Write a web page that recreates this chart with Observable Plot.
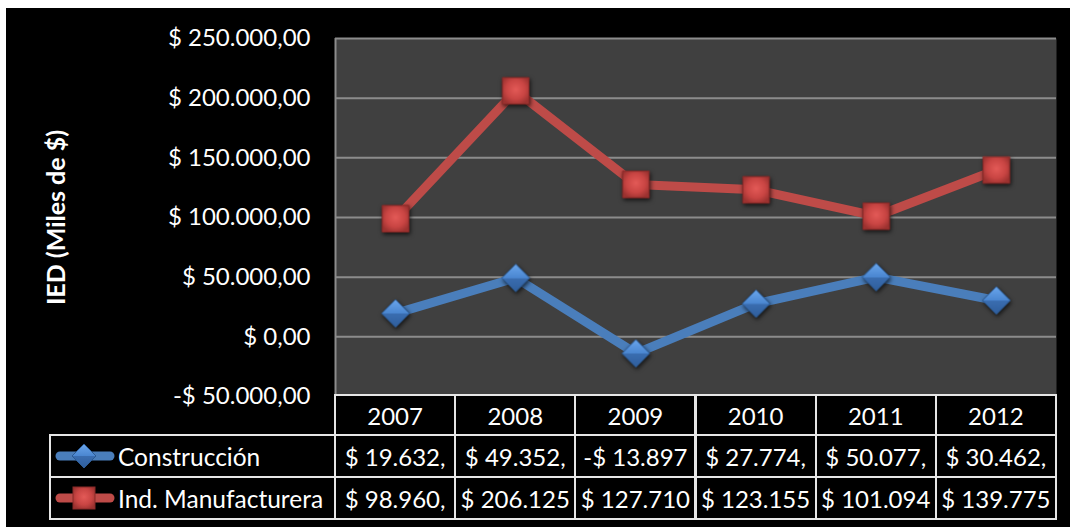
<!DOCTYPE html>
<html>
<head>
<meta charset="utf-8">
<script src="https://cdn.jsdelivr.net/npm/d3@7"></script>
<script src="https://cdn.jsdelivr.net/npm/@observablehq/plot@0.6"></script>
<style>
  html, body { margin: 0; padding: 0; background: #ffffff; }
  #wrap { position: absolute; left: 6px; top: 8px; width: 1064px; height: 519px; background: #000000; overflow: hidden; font-family: Lato, "Open Sans", sans-serif; }
  #wrap svg.plot { overflow: visible; }
  g[aria-label="y-axis label"] text { font-weight: bold; font-size: 25px; }
  g[aria-label="dot"] { filter: drop-shadow(1px 2px 2px rgba(0,0,0,0.7)); }
  .cell { position: absolute; box-sizing: border-box; border: 2px solid #e6e6e6; color: #ffffff; font-size: 24px; display: flex; align-items: center; justify-content: center; white-space: nowrap; overflow: hidden; background: #000; }
  .cell.leg { justify-content: flex-start; font-size: 24.5px; }
  .cell.leg svg { margin-left: 4px; margin-right: 3px; flex: none; }
</style>
</head>
<body>
<div id="wrap"></div>
<script>
// ---- data ----
const years = ["2007", "2008", "2009", "2010", "2011", "2012"];
const construccion = [19632, 49352, -13897, 27774, 50077, 30462];
const manufacturera = [98960, 206125, 127710, 123155, 101094, 139775];
const construccionLabels = ["$ 19.632,", "$ 49.352,", "-$ 13.897", "$ 27.774,", "$ 50.077,", "$ 30.462,"];
const manufactureraLabels = ["$ 98.960,", "$ 206.125", "$ 127.710", "$ 123.155", "$ 101.094", "$ 139.775"];
const seriesNames = ["Construcción", "Ind. Manufacturera"];
const yTicks = [-50000, 0, 50000, 100000, 150000, 200000, 250000];
const yTitle = "IED (Miles de $)";

const blue = "#4a7ebb", red = "#be4b48";

const locale = d3.formatLocale({decimal: ",", thousands: ".", grouping: [3], currency: ["$ ", ""], minus: "-"});
const fmt = locale.format("$,.2f");

const rowsC = years.map((yr, i) => ({i, year: yr, v: construccion[i]}));
const rowsM = years.map((yr, i) => ({i, year: yr, v: manufacturera[i]}));

const plot = Plot.plot({
  width: 1064,
  height: 410,
  marginLeft: 329,
  marginRight: 14,
  marginTop: 30,
  marginBottom: 22,
  style: {background: "transparent", color: "#ffffff", fontFamily: "Lato, 'Open Sans', sans-serif", fontSize: "24px"},
  x: {type: "linear", domain: [-0.5, years.length - 0.5], axis: null},
  y: {domain: [-50000, 250000], ticks: yTicks, tickFormat: fmt, tickSize: 0, tickPadding: 25,
      label: yTitle, labelAnchor: "center", labelOffset: 288, labelArrow: "none"},
  marks: [
    Plot.frame({fill: "#404040", stroke: null}),
    Plot.ruleY(yTicks, {stroke: "#8c8c8c", strokeWidth: 2}),
    Plot.ruleX([-0.5], {stroke: "#8c8c8c", strokeWidth: 2}),
    Plot.lineY(rowsC, {x: "i", y: "v", stroke: blue, strokeWidth: 9, strokeLinejoin: "round"}),
    Plot.lineY(rowsM, {x: "i", y: "v", stroke: red, strokeWidth: 9, strokeLinejoin: "round"}),
    Plot.dot(rowsC, {x: "i", y: "v", symbol: "diamond2", r: 12.5, fill: "url(#gBlue)", stroke: "#2c5a92", strokeWidth: 1}),
    Plot.dot(rowsM, {x: "i", y: "v", symbol: "square", r: 15, fill: "url(#gRed)", stroke: "#8a2a28", strokeWidth: 1})
  ]
});

const defsSrc = `
  <linearGradient id="gBlue" x1="0" y1="0" x2="0" y2="1">
    <stop offset="0" stop-color="#6aa6ec"/>
    <stop offset="0.5" stop-color="#4a86d0"/>
    <stop offset="0.52" stop-color="#3a6db0"/>
    <stop offset="1" stop-color="#2f5e9c"/>
  </linearGradient>
  <radialGradient id="gRed" cx="0.5" cy="0.45" r="0.6">
    <stop offset="0" stop-color="#e35a57"/>
    <stop offset="0.6" stop-color="#c94543"/>
    <stop offset="1" stop-color="#9c3230"/>
  </radialGradient>`;

const wrap = document.getElementById("wrap");
wrap.appendChild(plot);
const defs = document.createElementNS("http://www.w3.org/2000/svg", "defs");
defs.innerHTML = defsSrc;
plot.insertBefore(defs, plot.firstChild);

// ---- data table below the plot, aligned on the x scale ----
const xs = plot.scale("x");
const colEdges = [44];
for (let k = 0; k <= years.length; k++) colEdges.push(xs.apply(k - 0.5));
const rowEdges = [387, 427, 469, 511];

function legendIcon(color, kind) {
  const marker = kind === "diamond"
    ? `<polygon points="29,1 41,13 29,25 17,13" fill="url(#gBlueL)" stroke="#2c5a92" stroke-width="1"/>`
    : `<rect x="18" y="2" width="22" height="22" fill="url(#gRedL)" stroke="#8a2a28" stroke-width="1"/>`;
  return `<svg width="60" height="26" viewBox="0 0 60 26">
    <defs>
      <linearGradient id="gBlueL" x1="0" y1="0" x2="0" y2="1"><stop offset="0" stop-color="#6aa6ec"/><stop offset="0.5" stop-color="#4a86d0"/><stop offset="0.52" stop-color="#3a6db0"/><stop offset="1" stop-color="#2f5e9c"/></linearGradient>
      <radialGradient id="gRedL" cx="0.5" cy="0.45" r="0.6"><stop offset="0" stop-color="#e35a57"/><stop offset="0.6" stop-color="#c94543"/><stop offset="1" stop-color="#9c3230"/></radialGradient>
    </defs>
    <line x1="5" y1="13" x2="55" y2="13" stroke="${color}" stroke-width="9" stroke-linecap="round"/>
    ${marker}
  </svg>`;
}

function addCell(c, r, html, cls) {
  const d = document.createElement("div");
  d.className = "cell" + (cls ? " " + cls : "");
  const l = colEdges[c] - 1, t = rowEdges[r] - 1;
  d.style.left = l + "px";
  d.style.top = t + "px";
  d.style.width = (colEdges[c + 1] - colEdges[c] + 2) + "px";
  d.style.height = (rowEdges[r + 1] - rowEdges[r] + 2) + "px";
  d.innerHTML = html;
  wrap.appendChild(d);
}

years.forEach((yr, i) => addCell(i + 1, 0, yr));
addCell(0, 1, legendIcon(blue, "diamond") + `<span>${seriesNames[0]}</span>`, "leg");
addCell(0, 2, legendIcon(red, "square") + `<span>${seriesNames[1]}</span>`, "leg");
construccionLabels.forEach((s, i) => addCell(i + 1, 1, s));
manufactureraLabels.forEach((s, i) => addCell(i + 1, 2, s));
</script>
</body>
</html>
